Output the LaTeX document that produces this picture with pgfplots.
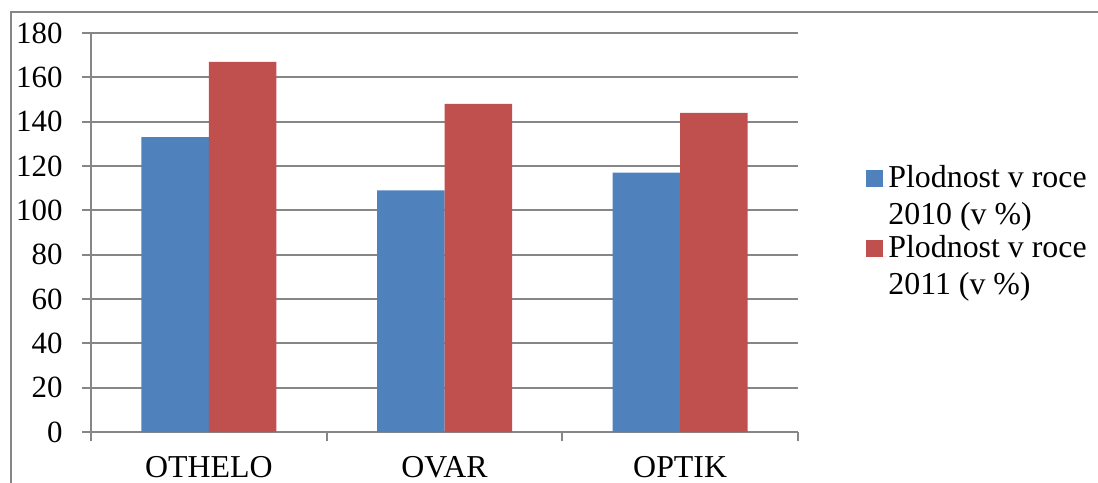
\documentclass[border=0pt]{standalone}
\usepackage{fontspec}
\setmainfont{Liberation Serif}
\usepackage{pgfplots}
\pgfplotsset{compat=1.18}
\definecolor{sblue}{HTML}{4F81BD}
\definecolor{sred}{HTML}{C0504D}
\definecolor{lgray}{HTML}{868686}
\begin{document}
\begin{tikzpicture}[font=\fontsize{32}{37}\selectfont]
\begin{axis}[
  at={(91bp,-432bp)}, anchor=south west,
  scale only axis, width=707bp, height=399bp,
  xmin=-0.5, xmax=2.5, ymin=0, ymax=180,
  ybar=0pt, bar width=67.5bp,
  xtick={0,1,2}, xticklabels={OTHELO,OVAR,OPTIK},
  minor xtick={-0.5,0.5,1.5,2.5},
  ytick={0,20,...,180},
  axis lines*=left,
  axis line style={lgray, line width=1.8bp},
  tick align=outside,
  major x tick style={draw=none},
  minor tick length=9bp, major tick length=9bp,
  every tick/.style={lgray, line width=1.8bp},
  ymajorgrids, grid style={lgray, line width=1.8bp},
  yticklabel style={xshift=-16bp, font=\fontsize{31}{37}\selectfont},
  xticklabel style={yshift=-12bp},
  /pgf/number format/assume math mode=true,
  legend style={at={(1.0922,0.679)}, anchor=north west, draw=none, fill=none,
    legend cell align=left, cells={align=left}, row sep=6bp,
    nodes={inner sep=2bp}},
  legend image code/.code={\fill[#1,draw=none] (0bp,9bp) rectangle (17bp,26bp);\path (0bp,9bp) -- (20bp,9bp);},
]
\addplot[fill=sblue, draw=none] coordinates {(0,133) (1,109) (2,117)};
\addlegendentry{Plodnost v roce\\2010 (v \%)}
\addplot[fill=sred, draw=none] coordinates {(0,167) (1,148) (2,144)};
\addlegendentry{Plodnost v roce\\2011 (v \%)}
\end{axis}
\draw[lgray, line width=1.8bp] (1098bp,-12bp) -- (11bp,-12bp) -- (11bp,-483bp);
\pgfresetboundingbox
\useasboundingbox (0,0) rectangle (1098bp,-483bp);
\end{tikzpicture}
\end{document}
